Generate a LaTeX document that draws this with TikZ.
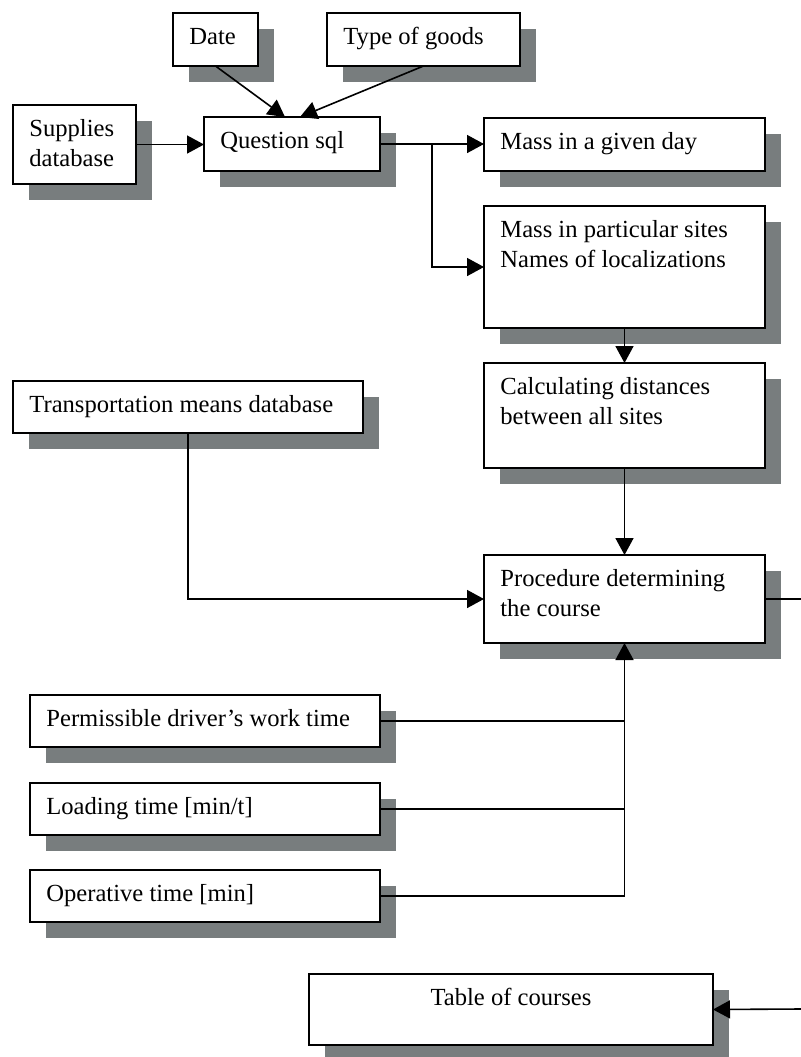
\documentclass[tikz,border=0pt]{standalone}
\usepackage{fontspec}
\setmainfont{Liberation Serif}
\usetikzlibrary{arrows.meta,calc,shadows}
\definecolor{shadowgray}{RGB}{120,125,126}
\tikzset{
  boxstyle/.style={draw, fill=white, line width=1pt, rectangle, inner sep=0pt, outer sep=0pt,
    anchor=north west, drop shadow={shadow xshift=8pt, shadow yshift=-8pt, fill=shadowgray, opacity=1}},
  txt/.style={anchor=north west, inner sep=0pt, align=left, font=\fontsize{12.3}{15}\selectfont},
  ctxt/.style={anchor=north, inner sep=0pt, align=center, font=\fontsize{12.3}{15}\selectfont},
  conn/.style={line width=0.8pt},
  arr/.style={line width=0.8pt, -{Triangle[length=8.5pt,width=9pt]}}
}
\newcommand{\mybox}[6]{%
  \node[boxstyle, minimum width=#4, minimum height=#5] (#1) at (#2,#3) {};
  \node[txt] (#1t) at ($(#1.north west)+(16,13)$) {\rule{0pt}{9pt}#6};
}
\begin{document}
\begin{tikzpicture}[x=0.5pt, y=-0.5pt]
\useasboundingbox (0,0) rectangle (801,1057);
\fill[white] (0,0) rectangle (801,1057);

\mybox{date}{173}{13}{42.5pt}{26.5pt}{Date}
\mybox{goods}{327}{13}{96.5pt}{26.5pt}{Type of goods}
\mybox{supplies}{13}{105}{61.5pt}{39.5pt}{Supplies\\database}
\mybox{qsql}{204}{117}{88pt}{27pt}{Question sql}
\mybox{massday}{484}{118}{140.5pt}{26.5pt}{Mass in a given day}
\mybox{masssites}{484}{206}{140.5pt}{61pt}{Mass in particular sites\\Names of localizations}
\mybox{calc}{484}{363}{140.5pt}{52.5pt}{Calculating distances\\between all sites}
\mybox{transport}{13}{381}{175pt}{26pt}{Transportation means database}
\mybox{proc}{484}{555}{140.5pt}{44pt}{Procedure determining\\the course}
\mybox{perm}{30}{695}{175pt}{26pt}{Permissible driver’s work time}
\mybox{loading}{30}{783}{175pt}{26pt}{Loading time [min/t]}
\mybox{operative}{30}{870}{175pt}{26pt}{Operative time [min]}
\node[boxstyle, minimum width=202pt, minimum height=35.5pt] (table) at (309,974) {};
\node[ctxt] (tablet) at ($(table.north)+(0,13)$) {\rule{0pt}{9pt}Table of courses};

\coordinate (outR) at (801,599);
\coordinate (inR) at (801,1009);
\coordinate (branch) at (432,144);

% connectors
\draw[arr] (date.south) -- ($(qsql.north)+(-7,0)$);
\draw[arr] (goods.south) -- ($(qsql.north)+(8,0)$);
\draw[arr] (supplies.east) -- (supplies.east -| qsql.west);
\draw[arr] (qsql.east) -- (qsql.east -| massday.west);
\draw[arr] (branch) |- (masssites.west);
\draw[arr] (masssites.south) -- (calc.north);
\draw[arr] (calc.south) -- (proc.north);
\draw[arr] (transport.south) |- (proc.west);
\draw[conn] (proc.east) -- (outR);
\draw[arr] (inR) -- (table.east);
\draw[conn] (perm.east) -- (perm.east -| proc.south);
\draw[conn] (loading.east) -- (loading.east -| proc.south);
\draw[arr] (operative.east) -| (proc.south);
\end{tikzpicture}
\end{document}
